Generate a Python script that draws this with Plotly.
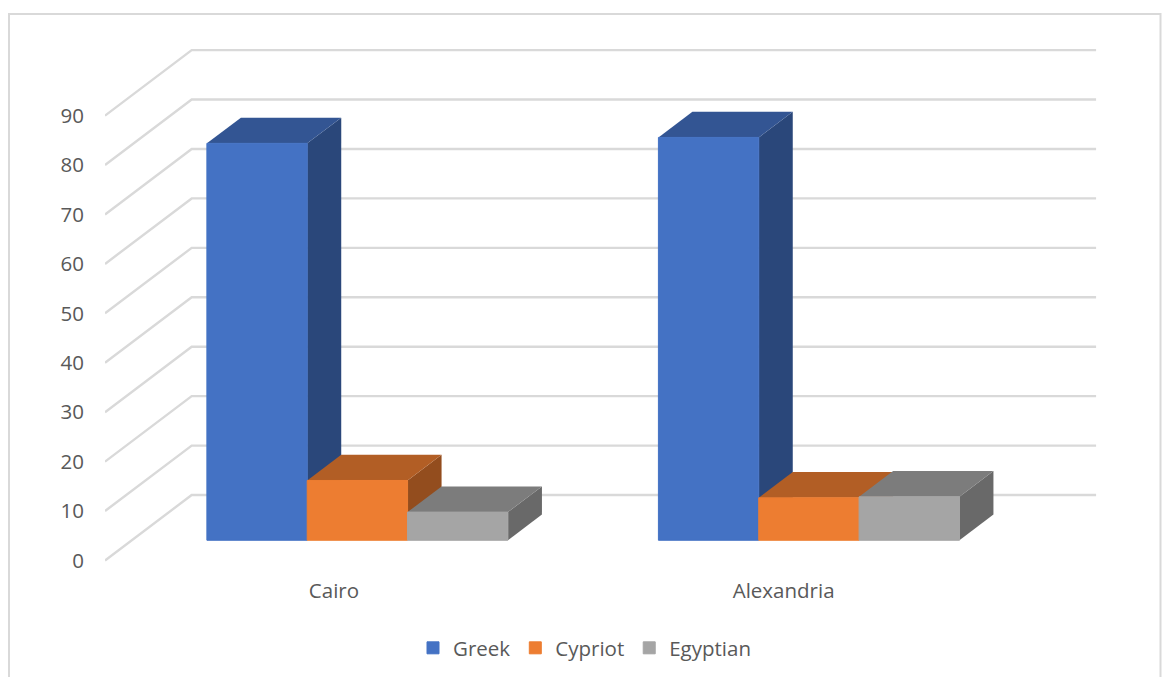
import plotly.graph_objects as go

# Data
categories = ["Cairo", "Alexandria"]
series_names = ["Greek", "Cypriot", "Egyptian"]
greek = [80.3, 81.5]
cypriot = [12.1, 8.6]
egyptian = [5.7, 8.8]
value_ticks = [0, 10, 20, 30, 40, 50, 60, 70, 80, 90]

front_colors = ["#4472C4", "#ED7D31", "#A5A5A5"]
top_colors = ["#335593", "#B25E25", "#7C7C7C"]
side_colors = ["#2A477A", "#934D1E", "#696969"]
GRID = "#D9D9D9"
TEXT = "#595959"
FONT = "Open Sans"
FS = 20.5

# Oblique projection constants, in axis units
BAR_W = 2 / 9
BAR_DEPTH_X, BAR_DEPTH_Y = 0.0753, 5.2
BASE = 4.09
WALL_X0, WALL_X1 = -0.559, 1.636
WALL_DX, WALL_DY = 0.192, 13.25
XR = [-0.559, 1.638]
YR = [-0.91, 105.3]

W, H = 1162, 677
L, R, T, B = 105, 1097, 40, 565

fig = go.Figure()

# Back wall / floor gridlines
for v in value_ticks:
    fig.add_trace(go.Scatter(
        x=[WALL_X0, WALL_X0 + WALL_DX, WALL_X1],
        y=[v, v + WALL_DY, v + WALL_DY],
        mode="lines", line=dict(color=GRID, width=2.4),
        showlegend=False, hoverinfo="skip", xaxis="x", yaxis="y"))

all_series = [greek, cypriot, egyptian]

# Top and side faces, painted by series
for c in range(len(categories)):
    for s, vals in enumerate(all_series):
        x0 = c + (s - 1.5) * BAR_W
        x1 = x0 + BAR_W
        top = BASE + vals[c]
        fig.add_trace(go.Scatter(
            x=[x1, x1 + BAR_DEPTH_X, x1 + BAR_DEPTH_X, x1, x1],
            y=[BASE, BASE + BAR_DEPTH_Y, top + BAR_DEPTH_Y, top, BASE],
            mode="lines", fill="toself", fillcolor=side_colors[s],
            line=dict(width=0), showlegend=False, hoverinfo="skip"))
        fig.add_trace(go.Scatter(
            x=[x0, x0 + BAR_DEPTH_X, x1 + BAR_DEPTH_X, x1, x0],
            y=[top, top + BAR_DEPTH_Y, top + BAR_DEPTH_Y, top, top],
            mode="lines", fill="toself", fillcolor=top_colors[s],
            line=dict(width=0), showlegend=False, hoverinfo="skip"))

# Front faces, on an overlaying axis pair so they paint last
for s, vals in enumerate(all_series):
    fig.add_trace(go.Bar(
        x=[0, 1], y=vals, base=BASE, name=series_names[s],
        marker=dict(color=front_colors[s], line=dict(width=1, color=front_colors[s])),
        xaxis="x2", yaxis="y2"))

fig.update_layout(
    width=W, height=H,
    margin=dict(l=L, r=W - R, t=T, b=H - B, pad=0),
    paper_bgcolor="white", plot_bgcolor="rgba(0,0,0,0)",
    barmode="group", bargap=1 / 3, bargroupgap=0,
    font=dict(family=FONT, size=FS, color=TEXT),
    xaxis=dict(
        range=XR, tickmode="array",
        tickvals=[-0.052, 0.944], ticktext=categories,
        showgrid=False, zeroline=False, showline=False,
        ticks="outside", ticklen=7, tickcolor="rgba(0,0,0,0)",
        tickfont=dict(family=FONT, size=FS, color=TEXT)),
    yaxis=dict(
        range=YR, tickmode="array", tickvals=value_ticks,
        showgrid=False, zeroline=False, showline=False,
        ticks="outside", ticklen=16, tickcolor="rgba(0,0,0,0)",
        tickfont=dict(family=FONT, size=FS, color=TEXT)),
    xaxis2=dict(range=XR, overlaying="x", visible=False),
    yaxis2=dict(range=YR, overlaying="y", visible=False),
    legend=dict(
        orientation="h", xanchor="center", yanchor="middle",
        xref="container", yref="container",
        x=585 / W, y=1 - 648 / H,
        font=dict(family=FONT, size=FS, color=TEXT),
        bgcolor="rgba(0,0,0,0)"),
    shapes=[dict(
        type="rect", xref="paper", yref="paper",
        x0=(9 - L) / (R - L), x1=(1160.5 - L) / (R - L),
        y0=(B - 700) / (B - T), y1=(B - 14) / (B - T),
        line=dict(color=GRID, width=2), fillcolor="rgba(0,0,0,0)", layer="below")],
)

fig.write_html(
    "out.html",
    config={"displayModeBar": False},
    post_script="document.body.style.margin='0';document.body.style.overflow='hidden';",
)
